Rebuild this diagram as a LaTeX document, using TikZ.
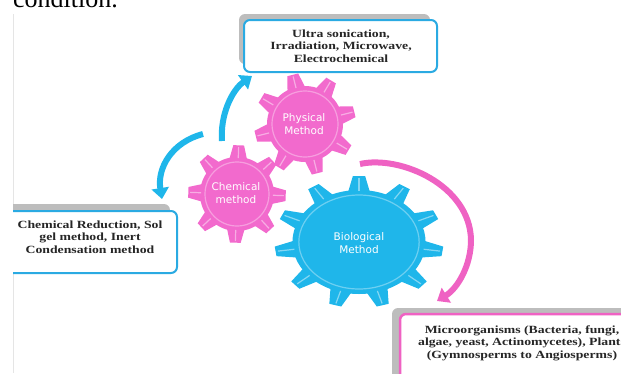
\documentclass[tikz,border=0pt]{standalone}
\usepackage{fontspec}
\usetikzlibrary{arrows.meta, positioning}
\newfontfamily\boxfont[FakeStretch=1.25]{Liberation Serif}
\newfontfamily\gearfont{DejaVu Sans}
\newfontfamily\pagefont{Liberation Serif}
\definecolor{gearpink}{HTML}{F26ACD}
\definecolor{arrowpink}{HTML}{EF62C3}
\definecolor{gearblue}{HTML}{1FB6EA}
\definecolor{lineblue}{HTML}{2AAAE2}
\definecolor{shadowgray}{HTML}{BDBDBD}

% gear: x, y, xscale, body radius, tip radius, teeth, first angle, colour, half angle of a tooth
\newcommand{\gearshape}[9]{%
  \begin{scope}[shift={(#1,#2)}, xscale=#3]
    \fill[#8] (0,0) circle[radius=#4];
    \foreach \k in {1,...,#6} {
      \pgfmathsetmacro{\a}{#7+(\k-1)*360/#6}
      \pgfmathsetmacro{\w}{#9*0.42}
      \fill[#8] (\a-#9:#4-2) -- (\a-\w:#5) -- (\a+\w:#5) -- (\a+#9:#4-2) -- cycle;
      \draw[white, opacity=.45, line width=1.2pt] (\a:#4-1) -- (\a:#5-2);
    }
    \draw[white, opacity=.35, line width=1.2pt] (0,0) circle[radius=#4-5];
  \end{scope}}

\begin{document}
\begin{tikzpicture}[x=1pt, y=-1pt,
    boxtext/.style={font={\boxfont\bfseries\fontsize{11}{12.5}\selectfont}, align=center, text=black!85, inner sep=0pt},
    geartext/.style={font={\gearfont\fontsize{10.5}{13}\selectfont}, align=center, text=white, inner sep=0pt},
    bluearrow/.style={draw=gearblue, line width=6pt, -{Triangle[width=17pt, length=11pt]}},
    pinkarrow/.style={draw=arrowpink, line width=6pt, -{Triangle[width=17pt, length=11pt]}}]
    \useasboundingbox (0,0) rectangle (621,373);
    \clip (0,0) rectangle (621,373);

    % page text and edge of the scan
    \node[anchor=base west, inner sep=0pt, font={\pagefont\fontsize{26}{26}\selectfont}] (caption) at (13,7) {condition.};
    \draw[black!10, line width=0.6pt] (13,14) -- (13,373);

    % boxes
    \fill[shadowgray, rounded corners=6pt] (239,14) rectangle (430,64);
    \draw[lineblue, line width=2pt, fill=white, rounded corners=6pt] (244,20) rectangle (437,72);
    \node[boxtext] (physlist) at (341,46) {Ultra sonication,\\Irradiation, Microwave,\\Electrochemical};

    \begin{scope}
        \clip (13,0) rectangle (621,373);
        \fill[shadowgray, rounded corners=6pt] (0,204) rectangle (170,250);
        \draw[lineblue, line width=2pt, fill=white, rounded corners=6pt] (-10,211) rectangle (177,273);
    \end{scope}
    \node[boxtext] (chemlist) at (90,237) {Chemical Reduction, Sol\\gel method, Inert\\Condensation method};

    \fill[shadowgray, rounded corners=6pt] (392,308) rectangle (640,390);
    \draw[arrowpink, line width=2.5pt, fill=white, rounded corners=6pt] (400,314) rectangle (645,395);
    \node[boxtext] (biolist) at (522,343) {Microorganisms (Bacteria, fungi,\\algae, yeast, Actinomycetes), Plants\\(Gymnosperms to Angiosperms)};

    % gears
    \gearshape{359}{242}{1.28}{52}{66}{11}{270}{gearblue}{10}
    \gearshape{305}{124}{1}{38}{51}{8}{256}{gearpink}{15}
    \gearshape{237}{194}{1}{37}{49}{8}{272}{gearpink}{15}
    \node[geartext] (phys) at (304,124) {Physical\\Method};
    \node[geartext] (chem) at (236,193) {Chemical\\method};
    \node[geartext] (bio) at (359,243) {Biological\\Method};

    % arrows
    \coordinate (upperstart) at (222,141);
    \coordinate (uppertip) at (252,76);
    \coordinate (lowerstart) at (203,134);
    \coordinate (lowertip) at (162,199);
    \coordinate (biostart) at (360,164);
    \coordinate (biotip) at (437,301);
    \draw[bluearrow] (upperstart) .. controls (220,115) and (232,90) .. (uppertip);
    \draw[bluearrow] (lowerstart) .. controls (172,142) and (157,168) .. (lowertip);
    \draw[pinkarrow] (biostart) .. controls (400,155) and (470,185) .. (471,240) .. controls (471,265) and (458,288) .. (biotip);
\end{tikzpicture}
\end{document}
